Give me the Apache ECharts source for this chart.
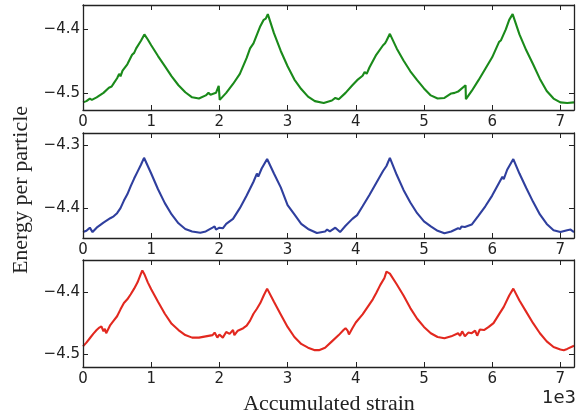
<!DOCTYPE html>
<html>
<head>
<meta charset="utf-8">
<script src="https://cdn.jsdelivr.net/npm/echarts@6/dist/echarts.min.js"></script>
<style>
  html, body { margin: 0; padding: 0; background: #ffffff; }
  #chart { width: 579px; height: 417px; }
</style>
</head>
<body>
<div id="chart"></div>
<script>
// Accumulated strain (units of 1e3) and energy per particle for three runs.
const strainGreen = [0.00,0.05,0.10,0.13,0.20,0.30,0.38,0.42,0.45,0.50,0.53,0.55,0.58,0.65,0.72,0.75,0.78,0.85,0.90,0.95,1.00,1.10,1.20,1.30,1.40,1.50,1.60,1.70,1.80,1.84,1.87,1.95,1.99,2.005,2.10,2.20,2.30,2.40,2.45,2.50,2.60,2.65,2.68,2.71,2.80,2.90,3.00,3.10,3.20,3.30,3.40,3.53,3.65,3.70,3.75,3.85,3.95,4.02,4.10,4.13,4.16,4.20,4.30,4.40,4.43,4.45,4.50,4.60,4.70,4.80,4.90,5.00,5.10,5.20,5.30,5.40,5.45,5.50,5.61,5.615,5.70,5.80,5.90,6.00,6.10,6.13,6.20,6.25,6.30,6.40,6.50,6.60,6.70,6.80,6.90,7.00,7.10,7.20];
const energyGreen = [-4.515,-4.513,-4.509,-4.511,-4.507,-4.500,-4.492,-4.490,-4.485,-4.477,-4.470,-4.474,-4.465,-4.455,-4.440,-4.437,-4.430,-4.418,-4.408,-4.416,-4.425,-4.442,-4.458,-4.474,-4.488,-4.499,-4.507,-4.509,-4.504,-4.500,-4.503,-4.500,-4.489,-4.511,-4.500,-4.486,-4.470,-4.445,-4.430,-4.422,-4.395,-4.385,-4.383,-4.376,-4.406,-4.434,-4.458,-4.479,-4.494,-4.506,-4.513,-4.516,-4.512,-4.508,-4.510,-4.500,-4.488,-4.480,-4.473,-4.467,-4.470,-4.460,-4.440,-4.425,-4.422,-4.418,-4.407,-4.430,-4.449,-4.466,-4.480,-4.493,-4.504,-4.509,-4.508,-4.501,-4.500,-4.498,-4.488,-4.510,-4.497,-4.480,-4.462,-4.444,-4.420,-4.417,-4.400,-4.385,-4.376,-4.408,-4.433,-4.455,-4.478,-4.497,-4.509,-4.515,-4.516,-4.515];

const strainBlue = [0.00,0.05,0.10,0.14,0.20,0.30,0.40,0.45,0.50,0.55,0.60,0.65,0.70,0.75,0.80,0.85,0.895,0.95,1.00,1.10,1.20,1.30,1.40,1.50,1.60,1.72,1.80,1.90,1.93,1.95,2.00,2.05,2.10,2.20,2.30,2.40,2.50,2.55,2.57,2.62,2.70,2.80,2.90,3.00,3.10,3.20,3.30,3.43,3.55,3.58,3.62,3.70,3.72,3.77,3.85,3.95,4.02,4.10,4.20,4.30,4.40,4.45,4.50,4.60,4.70,4.80,4.90,5.00,5.10,5.20,5.30,5.40,5.50,5.53,5.55,5.60,5.70,5.80,5.90,6.00,6.10,6.15,6.17,6.22,6.31,6.40,6.50,6.60,6.70,6.80,6.90,7.00,7.10,7.15,7.20];
const energyBlue = [-4.438,-4.436,-4.431,-4.438,-4.431,-4.423,-4.416,-4.413,-4.408,-4.400,-4.388,-4.378,-4.365,-4.353,-4.342,-4.331,-4.320,-4.333,-4.345,-4.370,-4.392,-4.410,-4.424,-4.433,-4.437,-4.439,-4.437,-4.431,-4.429,-4.434,-4.431,-4.432,-4.425,-4.417,-4.400,-4.380,-4.358,-4.345,-4.350,-4.337,-4.322,-4.345,-4.367,-4.395,-4.410,-4.425,-4.433,-4.4395,-4.437,-4.434,-4.437,-4.431,-4.431,-4.438,-4.428,-4.417,-4.411,-4.397,-4.379,-4.360,-4.341,-4.333,-4.320,-4.347,-4.371,-4.391,-4.408,-4.421,-4.429,-4.436,-4.440,-4.437,-4.432,-4.433,-4.429,-4.430,-4.426,-4.412,-4.397,-4.380,-4.360,-4.350,-4.354,-4.339,-4.322,-4.345,-4.368,-4.390,-4.410,-4.425,-4.435,-4.438,-4.435,-4.434,-4.438];

const strainRed = [0.00,0.05,0.10,0.15,0.20,0.24,0.27,0.30,0.32,0.34,0.40,0.45,0.50,0.55,0.60,0.65,0.70,0.75,0.80,0.85,0.87,0.90,0.95,1.00,1.10,1.20,1.30,1.40,1.50,1.60,1.70,1.80,1.90,1.93,1.97,2.00,2.05,2.10,2.15,2.20,2.22,2.27,2.35,2.40,2.45,2.50,2.55,2.60,2.65,2.70,2.80,2.90,3.00,3.10,3.20,3.30,3.40,3.46,3.55,3.65,3.75,3.82,3.85,3.88,3.90,3.95,4.00,4.10,4.20,4.25,4.30,4.36,4.42,4.45,4.47,4.50,4.60,4.70,4.80,4.90,5.00,5.10,5.20,5.30,5.40,5.50,5.53,5.56,5.60,5.65,5.70,5.75,5.78,5.82,5.88,5.95,6.02,6.10,6.17,6.25,6.31,6.40,6.50,6.60,6.70,6.80,6.90,7.00,7.05,7.10,7.20];
const energyRed = [-4.487,-4.481,-4.474,-4.467,-4.461,-4.457,-4.455,-4.463,-4.459,-4.466,-4.453,-4.446,-4.439,-4.428,-4.418,-4.412,-4.404,-4.395,-4.385,-4.371,-4.366,-4.372,-4.385,-4.396,-4.416,-4.435,-4.451,-4.461,-4.469,-4.473,-4.473,-4.471,-4.469,-4.465,-4.473,-4.468,-4.473,-4.464,-4.467,-4.461,-4.469,-4.462,-4.458,-4.454,-4.446,-4.435,-4.427,-4.418,-4.406,-4.395,-4.416,-4.436,-4.456,-4.472,-4.483,-4.489,-4.493,-4.493,-4.489,-4.479,-4.469,-4.461,-4.458,-4.462,-4.468,-4.458,-4.449,-4.436,-4.420,-4.412,-4.402,-4.389,-4.378,-4.368,-4.366,-4.371,-4.388,-4.406,-4.426,-4.443,-4.456,-4.466,-4.472,-4.474,-4.471,-4.466,-4.470,-4.463,-4.471,-4.465,-4.466,-4.462,-4.470,-4.460,-4.461,-4.456,-4.450,-4.436,-4.424,-4.406,-4.395,-4.414,-4.432,-4.450,-4.466,-4.479,-4.488,-4.492,-4.493,-4.491,-4.486];

// Tick positions
const strainTicks = [0, 1, 2, 3, 4, 5, 6, 7];
const energyTicksGreen = [-4.5, -4.4];
const energyTicksBlue = [-4.4, -4.3];
const energyTicksRed = [-4.5, -4.4];

const xLabelText = 'Accumulated strain';
const yLabelText = 'Energy per particle';
const offsetText = '1e3';

// Panel layout and styling
const panels = [
  { x: strainGreen, y: energyGreen, ticks: energyTicksGreen, color: '#1a8a1a', min: -4.527, max: -4.3616, top: 5, height: 105 },
  { x: strainBlue,  y: energyBlue,  ticks: energyTicksBlue,  color: '#2f3f9e', min: -4.4474, max: -4.2806, top: 133, height: 105 },
  { x: strainRed,   y: energyRed,   ticks: energyTicksRed,   color: '#e2281f', min: -4.5198, max: -4.3494, top: 260, height: 107 }
];

const AXIS_COLOR = '#222';
const LEFT = 83, RIGHT = 5;
const tickFont = { fontFamily: 'DejaVu Sans', fontSize: 15, color: '#222' };
const minusFmt = v => v.toFixed(1).replace('-', '\u2212');

const grid = [], xAxis = [], yAxis = [], series = [], graphic = [];

panels.forEach((p, i) => {
  grid.push({ left: LEFT, right: RIGHT, top: p.top, height: p.height, show: true,
              backgroundColor: '#ffffff', borderWidth: 0 });

  const xBase = { gridIndex: i, type: 'value', min: 0, max: 7.2, z: 5,
    axisLine: { show: true, onZero: false, lineStyle: { color: AXIS_COLOR, width: 1.3 } },
    axisTick: { show: true, inside: true, length: 5, customValues: strainTicks, lineStyle: { color: AXIS_COLOR, width: 1 } },
    splitLine: { show: false } };
  xAxis.push(Object.assign({}, xBase, { position: 'bottom',
    axisLabel: Object.assign({ show: true, margin: 5, customValues: strainTicks,
      formatter: v => String(Math.round(v)) }, tickFont) }));
  xAxis.push(Object.assign({}, xBase, { position: 'top', axisLabel: { show: false } }));

  const yBase = { gridIndex: i, type: 'value', min: p.min, max: p.max, z: 5,
    axisLine: { show: true, onZero: false, lineStyle: { color: AXIS_COLOR, width: 1.3 } },
    axisTick: { show: true, inside: true, length: 5, customValues: p.ticks, lineStyle: { color: AXIS_COLOR, width: 1 } },
    splitLine: { show: false } };
  yAxis.push(Object.assign({}, yBase, { position: 'left',
    axisLabel: Object.assign({ show: true, margin: 3, customValues: p.ticks, formatter: minusFmt }, tickFont) }));
  yAxis.push(Object.assign({}, yBase, { position: 'right', axisLabel: { show: false } }));

  series.push({ type: 'line', xAxisIndex: 2 * i, yAxisIndex: 2 * i,
    data: p.x.map((s, k) => [s, p.y[k]]), showSymbol: false, smooth: false,
    lineStyle: { color: p.color, width: 2.1 }, itemStyle: { color: p.color }, z: 3 });

  // Offset label for the strain axis; panels below cover most of it.
  graphic.push({ type: 'text', z: -1, right: 3, top: p.top + p.height + 22,
    style: { text: offsetText, font: '18px "DejaVu Sans"', fill: '#222' } });
});

graphic.push({ type: 'text', x: 329, y: 404, z: 10,
  style: { text: xLabelText, font: '22px "Liberation Serif"', fill: '#222',
           textAlign: 'center', textVerticalAlign: 'middle' } });
graphic.push({ type: 'text', x: 21, y: 190, rotation: Math.PI / 2, z: 10,
  style: { text: yLabelText, font: '22px "Liberation Serif"', fill: '#222',
           textAlign: 'center', textVerticalAlign: 'middle' } });

const chart = echarts.init(document.getElementById('chart'), null, { renderer: 'canvas' });
chart.setOption({ animation: false, backgroundColor: '#ffffff', grid, xAxis, yAxis, series, graphic });
</script>
</body>
</html>
